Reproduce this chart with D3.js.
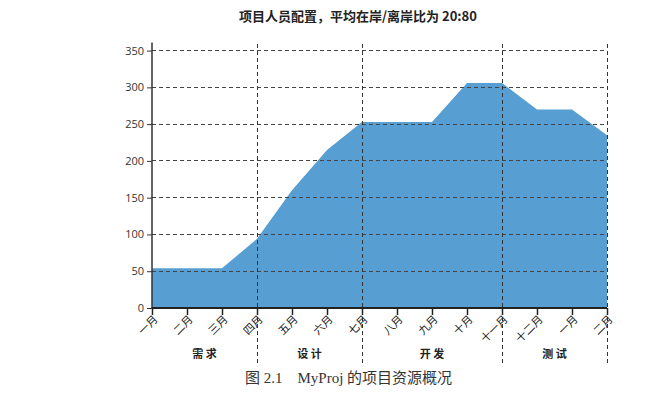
<!DOCTYPE html>
<html><head><meta charset="utf-8">
<script src="https://cdn.jsdelivr.net/npm/d3@7"></script>
<style>
body{margin:0;background:#fff;}
svg{display:block;font-family:"Noto Sans CJK SC","Noto Sans",sans-serif;}
</style></head>
<body><svg id="c" width="648" height="396"></svg>
<script>
const months = ["一月","二月","三月","四月","五月","六月","七月","八月","九月","十月","十一月","十二月","一月","二月"];
const staff = [54,54,54,94,160,215,253,253,253,306,306,270,270,235];
const yTicks = [0,50,100,150,200,250,300,350];
const phases = ["需 求","设 计","开 发","测 试"];
const phaseBounds = [[0,3],[3,6],[6,10],[10,13]];
const title = "项目人员配置，平均在岸/离岸比为 20:80";
const caption = "图 2.1　MyProj 的项目资源概况";

const svg = d3.select("#c");
const idx = months.map((m,i)=>i);
const x = d3.scalePoint().domain(idx).range([152,607]);
const y = d3.scaleLinear().domain([0,361]).range([308,42.5]);

// area
svg.append("path")
  .datum(staff)
  .attr("d", d3.area().x((d,i)=>x(i)).y0(y(0)).y1(d=>y(d)))
  .attr("fill","#579ed3");

// horizontal grid
svg.append("g").selectAll("line").data(yTicks.filter(t=>t>0)).join("line")
  .attr("x1",152).attr("x2",607).attr("y1",d=>y(d)).attr("y2",d=>y(d))
  .attr("stroke","#444").attr("stroke-width",1).attr("stroke-dasharray","4,3").attr("shape-rendering","crispEdges");

// vertical phase separators
svg.append("g").selectAll("line").data(phaseBounds.map(b=>b[1])).join("line")
  .attr("x1",d=>x(d)).attr("x2",d=>x(d)).attr("y1",44).attr("y2",366)
  .attr("stroke","#333").attr("stroke-width",1).attr("stroke-dasharray","4,3").attr("shape-rendering","crispEdges");

// y axis
const ya = svg.append("g").attr("transform","translate(152,0)")
  .call(d3.axisLeft(y).tickValues(yTicks).tickSize(5).tickPadding(3));
ya.select(".domain").attr("d","M0,42.5V308").attr("stroke","#333").attr("stroke-width",1.5);
ya.selectAll(".tick line").attr("stroke","#333");
ya.selectAll("text").style("font-size","11px").attr("fill","#333").style("font-family","'Open Sans','Noto Sans',sans-serif");

// x axis
const xa = svg.append("g").attr("transform","translate(0,308)")
  .call(d3.axisBottom(x).tickSize(7).tickFormat(i=>months[i]));
xa.select(".domain").attr("d","M152,0H607").attr("stroke","#222").attr("stroke-width",2);
xa.selectAll(".tick line").attr("stroke","#222").attr("stroke-width",1.5);
xa.selectAll("text").style("font-size","11px").style("font-family","'Noto Sans CJK SC',sans-serif").attr("fill","#222")
  .attr("text-anchor","end").attr("dy",0).attr("y",0)
  .attr("transform","translate(6,12) rotate(-45)");

// phase labels
svg.append("g").selectAll("text").data(phases).join("text")
  .attr("x",(d,i)=>(x(phaseBounds[i][0])+x(phaseBounds[i][1]))/2)
  .attr("y",358).attr("text-anchor","middle")
  .style("font-size","11px").style("font-weight","bold").attr("fill","#222").text(d=>d);

// y label (mostly hidden)
const defs = svg.append("defs");
defs.append("clipPath").attr("id","yl").append("rect").attr("x",103).attr("y",150).attr("width",6).attr("height",40);
svg.append("text").attr("clip-path","url(#yl)")
  .attr("transform","translate(111,172) rotate(-90)").attr("text-anchor","middle")
  .style("font-size","12px").style("font-weight","bold").attr("fill","#111").text("人数");

// title
svg.append("text").attr("x",358).attr("y",21).attr("text-anchor","middle")
  .style("font-size","13px").style("font-weight","bold").attr("fill","#222").text(title);

// caption
svg.append("text").attr("x",245).attr("y",383)
  .style("font-size","15px").attr("fill","#333")
  .style("font-family","'Liberation Serif','Noto Sans CJK SC',serif").text(caption);
</script></body></html>
